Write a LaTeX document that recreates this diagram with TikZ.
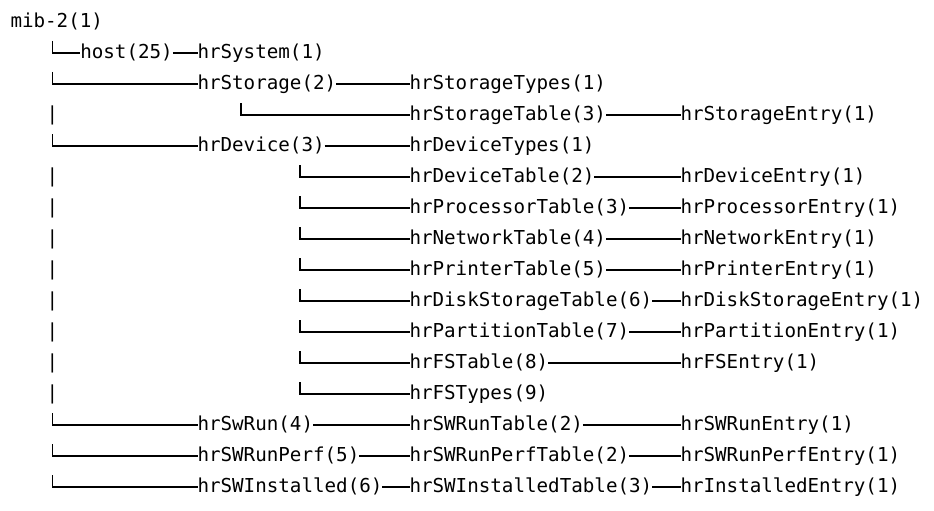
\documentclass[tikz,border=0pt]{standalone}
\usepackage{fontspec}
\newfontfamily\dvm{DejaVu Sans Mono}
\begin{document}
\begin{tikzpicture}[x=0.75pt,y=-0.75pt,
  lbl/.style={anchor=base west,inner sep=0pt,outer sep=0pt,font=\dvm\fontsize{14.4pt}{17pt}\selectfont},
  pipe/.style={anchor=base,inner sep=0pt,outer sep=0pt,font=\dvm\fontsize{14.4pt}{17pt}\selectfont},
  conn/.style={line width=0.95pt,line cap=butt}]
\useasboundingbox (0,0) rectangle (934,510);
\def\hy{4.1pt}
% row 0
\node[lbl] (mib) at (10.5,27.5) {mib-2(1)};
% row 1
\node[lbl] (host) at (80.3,58.5) {host(25)};
\node[lbl] (sys) at (197.5,58.5) {hrSystem(1)};
\coordinate (l1) at (52.5,41);
\draw[conn] (l1) |- ([yshift=\hy]host.base west);
\draw[conn] ([yshift=\hy]host.base east) -- ([yshift=\hy]sys.base west);
% row 2
\node[lbl] (sto) at (197.5,89.5) {hrStorage(2)};
\node[lbl] (stot) at (409.5,89.5) {hrStorageTypes(1)};
\coordinate (l2) at (52.5,72);
\draw[conn] (l2) |- ([yshift=\hy]sto.base west);
\draw[conn] ([yshift=\hy]sto.base east) -- ([yshift=\hy]stot.base west);
% row 3
\node[lbl] (stotab) at (409.5,120.5) {hrStorageTable(3)};
\node[lbl] (stoent) at (680.5,120.5) {hrStorageEntry(1)};
\coordinate (l3) at (241,103);
\draw[conn] (l3) |- ([yshift=\hy]stotab.base west);
\draw[conn] ([yshift=\hy]stotab.base east) -- ([yshift=\hy]stoent.base west);
% row 4
\node[lbl] (dev) at (197.5,151.5) {hrDevice(3)};
\node[lbl] (devt) at (409.5,151.5) {hrDeviceTypes(1)};
\coordinate (l4) at (52.5,134);
\draw[conn] (l4) |- ([yshift=\hy]dev.base west);
\draw[conn] ([yshift=\hy]dev.base east) -- ([yshift=\hy]devt.base west);
% rows 5-11
\foreach \k/\t/\e in {5/hrDeviceTable(2)/hrDeviceEntry(1),6/hrProcessorTable(3)/hrProcessorEntry(1),7/hrNetworkTable(4)/hrNetworkEntry(1),8/hrPrinterTable(5)/hrPrinterEntry(1),9/hrDiskStorageTable(6)/hrDiskStorageEntry(1),10/hrPartitionTable(7)/hrPartitionEntry(1),11/hrFSTable(8)/hrFSEntry(1)}{
  \node[lbl] (t\k) at (409.5,{27.5+31*\k}) {\t};
  \node[lbl] (e\k) at (680.5,{27.5+31*\k}) {\e};
  \coordinate (d\k) at (300,{10+31*\k});
  \draw[conn] (d\k) |- ([yshift=\hy]t\k.base west);
  \draw[conn] ([yshift=\hy]t\k.base east) -- ([yshift=\hy]e\k.base west);
}
% row 12
\node[lbl] (fst) at (409.5,399.5) {hrFSTypes(9)};
\coordinate (d12) at (300,382);
\draw[conn] (d12) |- ([yshift=\hy]fst.base west);
% pipes
\foreach \k in {3,5,6,7,8,9,10,11,12}{
  \node[pipe] (p\k) at (52.5,{27.5+31*\k}) {|};
}
% rows 13-15
\foreach \k/\a/\b/\c in {13/hrSwRun(4)/hrSWRunTable(2)/hrSWRunEntry(1),14/hrSWRunPerf(5)/hrSWRunPerfTable(2)/hrSWRunPerfEntry(1),15/hrSWInstalled(6)/hrSWInstalledTable(3)/hrInstalledEntry(1)}{
  \node[lbl] (a\k) at (197.5,{27.5+31*\k}) {\a};
  \node[lbl] (b\k) at (409.5,{27.5+31*\k}) {\b};
  \node[lbl] (c\k) at (680.5,{27.5+31*\k}) {\c};
  \coordinate (m\k) at (52.5,{10+31*\k});
  \draw[conn] (m\k) |- ([yshift=\hy]a\k.base west);
  \draw[conn] ([yshift=\hy]a\k.base east) -- ([yshift=\hy]b\k.base west);
  \draw[conn] ([yshift=\hy]b\k.base east) -- ([yshift=\hy]c\k.base west);
}
\end{tikzpicture}
\end{document}
